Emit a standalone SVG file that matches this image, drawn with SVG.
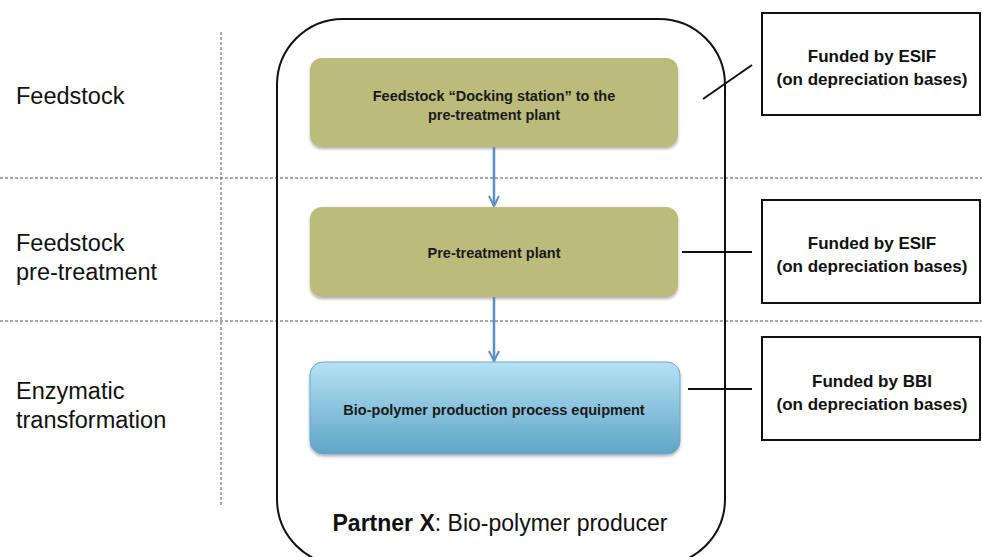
<svg xmlns="http://www.w3.org/2000/svg" width="982" height="557" viewBox="0 0 982 557">
<defs>
<linearGradient id="blueGrad" x1="0" y1="0" x2="0" y2="1">
<stop offset="0" stop-color="#b6e1f4"/>
<stop offset="1" stop-color="#5fa5c7"/>
</linearGradient>
<filter id="shadow" x="-5%" y="-10%" width="110%" height="125%">
<feDropShadow dx="0" dy="2" stdDeviation="1.5" flood-color="#000" flood-opacity="0.3"/>
</filter>
<marker id="arrow" viewBox="0 0 12 12" refX="11" refY="6" markerWidth="12" markerHeight="12" markerUnits="userSpaceOnUse" orient="auto">
<path d="M1,1 L11,6 L1,11" fill="none" stroke="#5b8fc9" stroke-width="2"/>
</marker>
</defs>
<style>
.dash{stroke:#555;stroke-width:1;stroke-dasharray:3 2;fill:none}
.lbl{font-family:"Liberation Sans",Arial,sans-serif;font-size:23.5px;fill:#111}
.olive{fill:#bbbb7c;filter:url(#shadow)}
.blue{fill:url(#blueGrad);stroke:#6aaacb;stroke-width:1;filter:url(#shadow)}
.nt{font-family:"Liberation Sans",Arial,sans-serif;font-size:14.5px;font-weight:bold;fill:#1a1a1a;text-anchor:middle}
.fund{fill:#fff;stroke:#111;stroke-width:2}
.ft{font-family:"Liberation Sans",Arial,sans-serif;font-size:17px;font-weight:bold;fill:#111;text-anchor:middle}
.conn{stroke:#111;stroke-width:2;fill:none}
.flow{stroke:#5b8fc9;stroke-width:2.5;fill:none}
</style>
<rect width="982" height="557" fill="#fff"/>

<g id="grid">
<line class="dash" x1="0" y1="178" x2="982" y2="178"/>
<line class="dash" x1="0" y1="321" x2="982" y2="321"/>
<line class="dash" x1="221" y1="32" x2="221" y2="505"/>
</g>

<g id="stage-labels">
<text class="lbl" x="16" y="104">Feedstock</text>
<text class="lbl" x="16" y="251">Feedstock</text>
<text class="lbl" x="16" y="280">pre-treatment</text>
<text class="lbl" x="16" y="399">Enzymatic</text>
<text class="lbl" x="16" y="428">transformation</text>
</g>

<g id="partner">
<rect x="277" y="19" width="448" height="546" rx="66" ry="66" fill="none" stroke="#111" stroke-width="2"/>
<text x="500" y="531" text-anchor="middle" font-family="Liberation Sans, Arial, sans-serif" font-size="23px" fill="#111"><tspan font-weight="bold">Partner X</tspan>: Bio-polymer producer</text>
</g>

<g id="docking">
<rect class="olive" x="310" y="58" width="368" height="89" rx="12"/>
<text class="nt" x="494" y="101">Feedstock “Docking station” to the</text>
<text class="nt" x="494" y="120">pre-treatment plant</text>
</g>

<g id="pretreatment">
<rect class="olive" x="310" y="207" width="368" height="90" rx="12"/>
<text class="nt" x="494" y="258">Pre-treatment plant</text>
</g>

<g id="equipment">
<rect class="blue" x="310" y="362" width="370" height="92" rx="13"/>
<text class="nt" x="494" y="415">Bio-polymer production process equipment</text>
</g>

<g id="fund1">
<rect class="fund" x="762" y="13" width="218" height="102"/>
<text class="ft" x="872" y="62">Funded by ESIF</text>
<text class="ft" x="872" y="85">(on depreciation bases)</text>
</g>

<g id="fund2">
<rect class="fund" x="762" y="200" width="218" height="103"/>
<text class="ft" x="872" y="249">Funded by ESIF</text>
<text class="ft" x="872" y="272">(on depreciation bases)</text>
</g>

<g id="fund3">
<rect class="fund" x="762" y="337" width="218" height="103"/>
<text class="ft" x="872" y="387">Funded by BBI</text>
<text class="ft" x="872" y="410">(on depreciation bases)</text>
</g>

<g id="connectors">
<line class="flow" x1="494" y1="147" x2="494" y2="206" marker-end="url(#arrow)"/>
<line class="flow" x1="494" y1="297" x2="494" y2="361" marker-end="url(#arrow)"/>
<line class="conn" x1="703" y1="99" x2="752" y2="65"/>
<line class="conn" x1="682" y1="252" x2="752" y2="252"/>
<line class="conn" x1="688" y1="389" x2="752" y2="389"/>
</g>
</svg>
